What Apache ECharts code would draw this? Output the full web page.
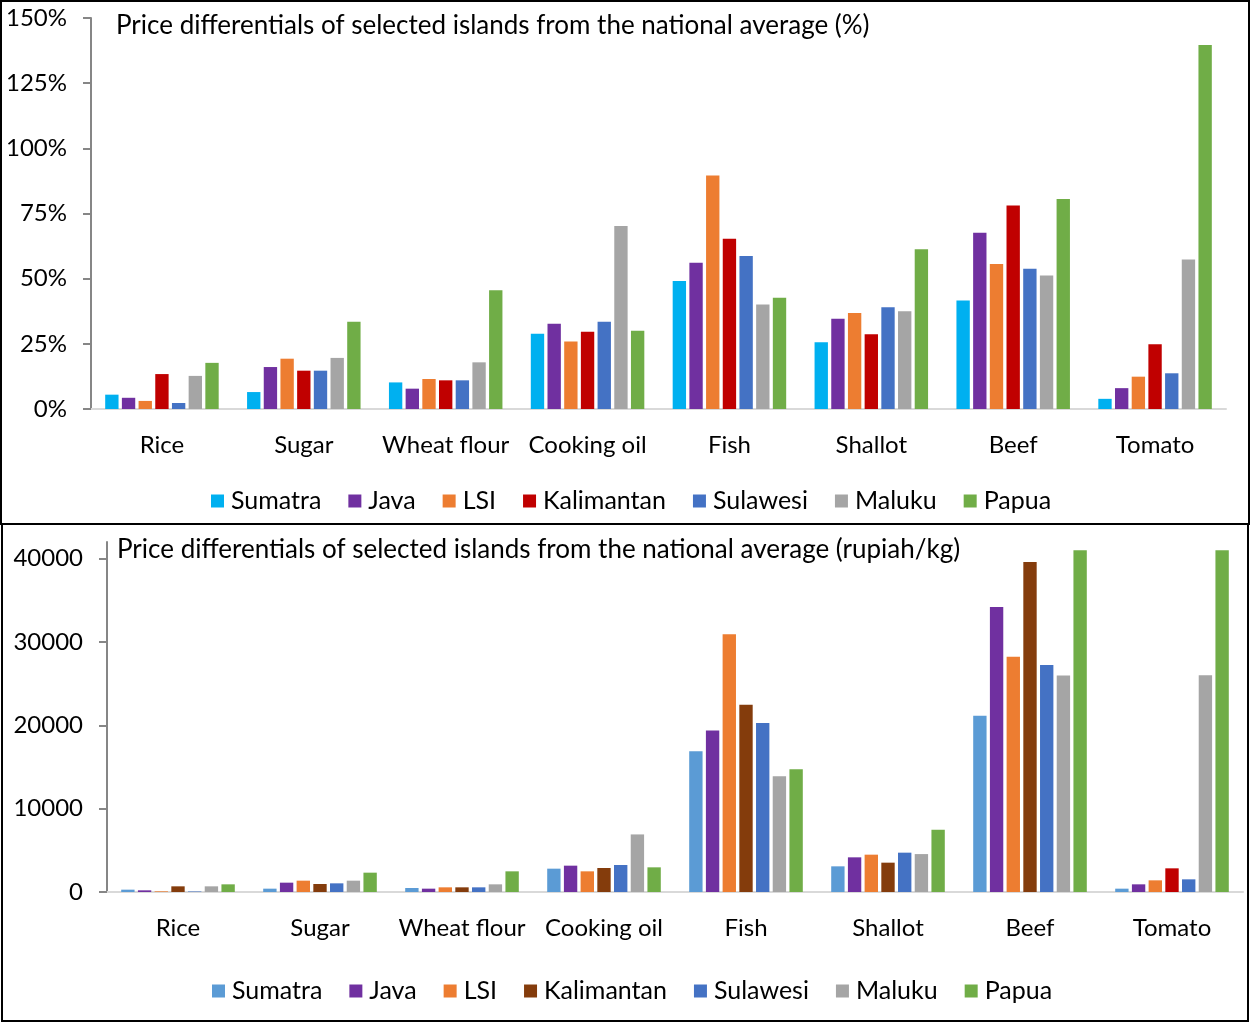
<!DOCTYPE html>
<html>
<head>
<meta charset="utf-8">
<script src="https://cdn.jsdelivr.net/npm/echarts@6/dist/echarts.min.js"></script>
<style>
  html, body { margin: 0; padding: 0; background: #fff; }
  #wrap { position: relative; width: 1250px; height: 1022px; overflow: hidden; }
  .panel { position: absolute; left: 0; width: 1250px; }
  #pct { top: 0; height: 524px; }
  #rp { top: 524px; height: 498px; }
  .frame { position: absolute; box-sizing: border-box; border: 2px solid #000; pointer-events: none; }
</style>
</head>
<body>
<div id="wrap">
  <div id="pct" class="panel"></div>
  <div id="rp" class="panel"></div>
  <div class="frame" style="left:0;top:0;width:1250px;height:525px;"></div>
  <div class="frame" style="left:1px;top:523px;width:1248px;height:499px;"></div>
</div>
<script>
// Commodities and island groups
const categories = ['Rice', 'Sugar', 'Wheat flour', 'Cooking oil', 'Fish', 'Shallot', 'Beef', 'Tomato'];
const islands = ['Sumatra', 'Java', 'LSI', 'Kalimantan', 'Sulawesi', 'Maluku', 'Papua'];

// Price differential from the national average, percent
const pctSumatra    = [5.5, 6.5, 10.2, 28.9, 49.1, 25.6, 41.6, 3.9];
const pctJava       = [4.3, 16.1, 7.8, 32.7, 56.1, 34.6, 67.6, 8.0];
const pctLSI        = [3.1, 19.3, 11.5, 25.9, 89.6, 36.8, 55.6, 12.4];
const pctKalimantan = [13.4, 14.7, 11.0, 29.6, 65.3, 28.7, 78.1, 24.8];
const pctSulawesi   = [2.3, 14.7, 11.0, 33.5, 58.7, 39.0, 53.8, 13.7];
const pctMaluku     = [12.7, 19.6, 17.9, 70.2, 40.1, 37.5, 51.2, 57.4];
const pctPapua      = [17.7, 33.5, 45.6, 30.0, 42.7, 61.3, 80.6, 139.6];

// Price differential from the national average, rupiah per kg
const rpSumatra    = [280, 400, 480, 2800, 16890, 3080, 21160, 400];
const rpJava       = [200, 1120, 400, 3160, 19370, 4160, 34210, 920];
const rpLSI        = [80, 1360, 560, 2480, 30940, 4480, 28230, 1400];
const rpKalimantan = [680, 960, 560, 2880, 22480, 3520, 39600, 2840];
const rpSulawesi   = [60, 1040, 560, 3240, 20280, 4720, 27230, 1520];
const rpMaluku     = [680, 1360, 920, 6910, 13900, 4550, 25990, 26000];
const rpPapua      = [920, 2320, 2480, 2960, 14730, 7470, 41000, 41000];

// Axis tick labels
const pctTicks = [0, 25, 50, 75, 100, 125, 150];
const rpTicks = [0, 10000, 20000, 30000, 40000];

const pctData = [pctSumatra, pctJava, pctLSI, pctKalimantan, pctSulawesi, pctMaluku, pctPapua];
const rpData = [rpSumatra, rpJava, rpLSI, rpKalimantan, rpSulawesi, rpMaluku, rpPapua];

const pctColors = ['#00B0F0', '#7030A0', '#ED7D31', '#C00000', '#4472C4', '#A5A5A5', '#70AD47'];
const rpColors  = ['#5B9BD5', '#7030A0', '#ED7D31', '#843C0C', '#4472C4', '#A5A5A5', '#70AD47'];

const FONT = 'Lato';
const TXT = '#000';

function baseOption(titleText, gridCfg, yAxisCfg, legendTop) {
  return {
    animation: false,
    textStyle: { fontFamily: FONT },
    title: {
      text: titleText, left: gridCfg.titleLeft, top: 8,
      textStyle: { fontFamily: FONT, fontSize: 26, fontWeight: 'normal', color: TXT }
    },
    legend: {
      data: islands, left: gridCfg.legendLeft, top: legendTop,
      icon: 'rect', itemWidth: 13, itemHeight: 13, itemGap: 27,
      textStyle: { fontFamily: FONT, fontSize: 25, lineHeight: 26, color: TXT, padding: [0, 0, 0, 2] }
    },
    grid: { left: gridCfg.left, right: gridCfg.right, top: gridCfg.top, bottom: gridCfg.bottom, containLabel: false },
    xAxis: {
      type: 'category', data: categories,
      axisLine: { lineStyle: { color: '#D9D9D9', width: 2 } },
      axisTick: { show: false },
      axisLabel: { fontFamily: FONT, fontSize: 24, color: TXT, margin: 24, interval: 0 }
    },
    yAxis: yAxisCfg
  };
}

// Percent panel
const pctChart = echarts.init(document.getElementById('pct'), null, { renderer: 'canvas' });
const pctOpt = baseOption(
  'Price differentials of selected islands from the national average (%)',
  { left: 91, right: 24, top: 18, bottom: 115, titleLeft: 111, legendLeft: 206 },
  {
    type: 'value', min: 0, max: 150, interval: 25,
    axisLine: { show: true, lineStyle: { color: '#868686', width: 2 } },
    axisTick: { show: true, length: 8, lineStyle: { color: '#868686', width: 2 } },
    splitLine: { show: false },
    axisLabel: {
      fontFamily: FONT, fontSize: 24, color: TXT, margin: 24,
      customValues: pctTicks, formatter: '{value}%'
    }
  },
  483
);
pctOpt.series = islands.map((name, i) => ({
  name, type: 'bar', data: pctData[i],
  barCategoryGap: '20%', barGap: '25%',
  itemStyle: { color: pctColors[i] }
}));
pctChart.setOption(pctOpt);

// Rupiah panel
const rpChart = echarts.init(document.getElementById('rp'), null, { renderer: 'canvas' });
const rpOpt = baseOption(
  'Price differentials of selected islands from the national average (rupiah/kg)',
  { left: 107, right: 7, top: 18, bottom: 130, titleLeft: 112, legendLeft: 207 },
  {
    type: 'value', min: 0, max: 42000,
    axisLine: { show: true, lineStyle: { color: '#868686', width: 2 } },
    axisTick: { show: true, length: 8, customValues: rpTicks, lineStyle: { color: '#868686', width: 2 } },
    splitLine: { show: false },
    axisLabel: {
      fontFamily: FONT, fontSize: 24, color: TXT, margin: 24, customValues: rpTicks,
      formatter: (v) => String(v)
    }
  },
  449
);
const tomatoIdx = categories.indexOf('Tomato');
rpOpt.series = islands.map((name, i) => ({
  name, type: 'bar',
  data: rpData[i].map((v, j) =>
    (name === 'Kalimantan' && j === tomatoIdx) ? { value: v, itemStyle: { color: '#C00000' } } : v),
  barCategoryGap: '20%', barGap: '25%',
  itemStyle: { color: rpColors[i] }
}));
rpChart.setOption(rpOpt);
</script>
</body>
</html>
